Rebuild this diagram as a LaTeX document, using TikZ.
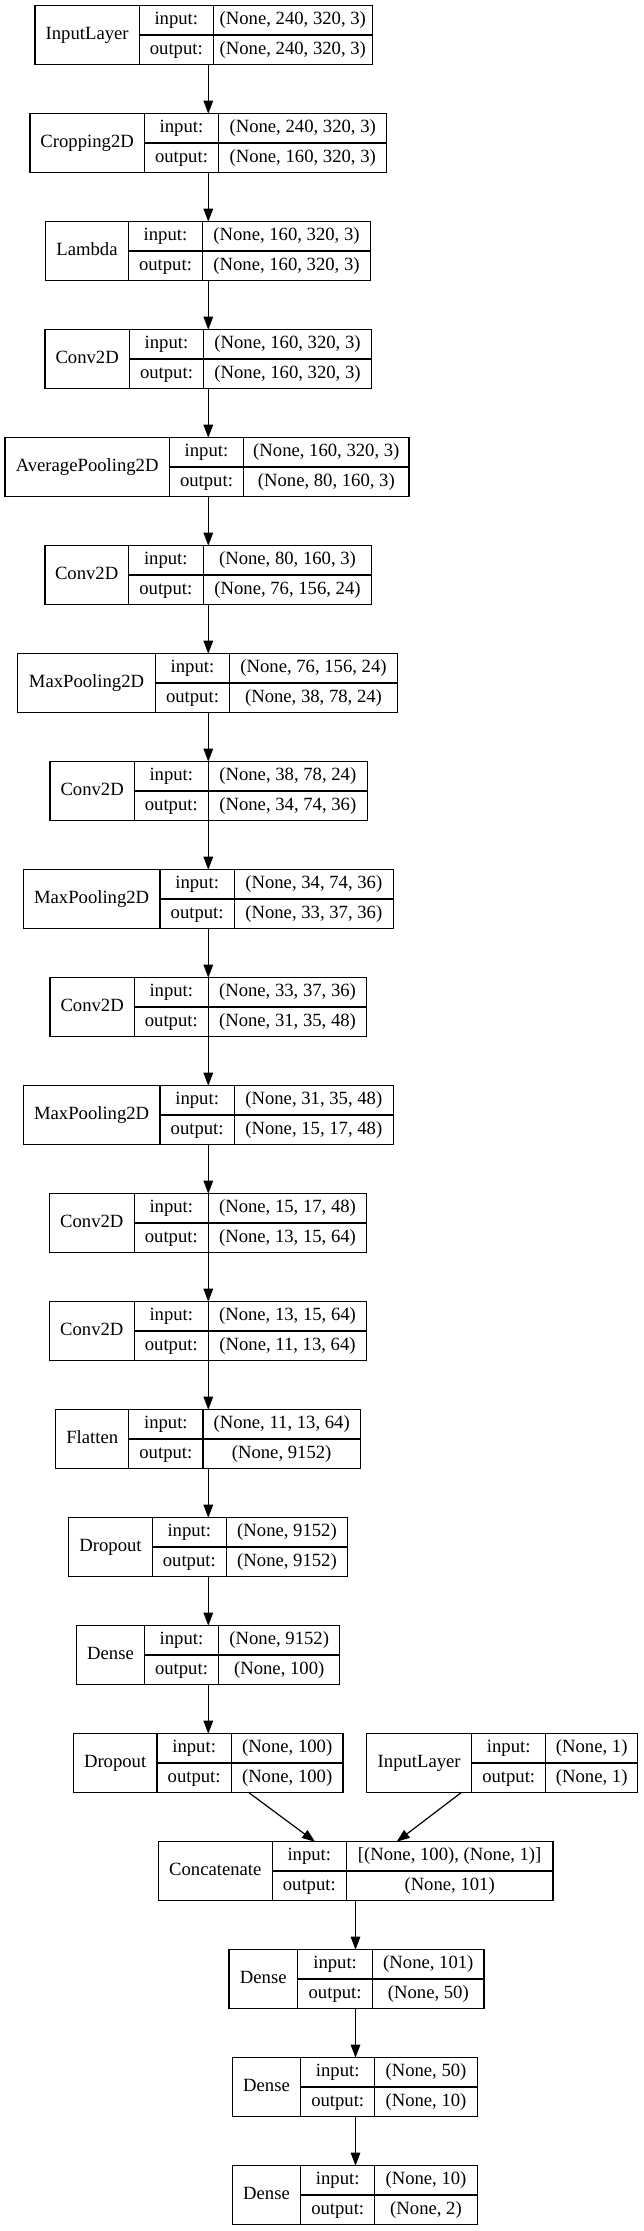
\documentclass[tikz,border=0pt]{standalone}
\usepackage{fontspec}
\setmainfont{Liberation Serif}
\usetikzlibrary{arrows.meta}
\tikzset{
  lbox/.style={draw, line width=1.2pt, inner sep=0pt, outer sep=0pt, anchor=north west, minimum height=58.5pt},
  sep/.style={line width=1.2pt},
  txt/.style={inner sep=0pt, font=\fontsize{18.67}{22}\selectfont, text height=12.6pt, text depth=4pt},
  arr/.style={line width=1.2pt, -{Triangle[length=13pt,width=9.5pt]}},
}
\newcommand\lyr[9]{%
  \pgfmathsetmacro\lw{#6-#3}%
  \node[lbox, minimum width=\lw pt] (#1) at (#3,#2) {};
  \draw[sep] (#4,#2) -- (#4,{#2+58.5});
  \draw[sep] (#5,#2) -- (#5,{#2+58.5});
  \draw[sep] (#4,{#2+29.25}) -- (#6,{#2+29.25});
  \node[txt] (#1-l) at ({(#3+#4)/2},{#2+29.25}) {#7};
  \node[txt] (#1-i) at ({(#4+#5)/2},{#2+14.8}) {input:};
  \node[txt] (#1-o) at ({(#4+#5)/2},{#2+44.0}) {output:};
  \node[txt] (#1-iv) at ({(#5+#6)/2},{#2+14.8}) {#8};
  \node[txt] (#1-ov) at ({(#5+#6)/2},{#2+44.0}) {#9};
}
\begin{document}
\begin{tikzpicture}[x=1pt,y=-1pt]
\useasboundingbox[fill=white] (0,0) rectangle (644,2231);
\lyr{in1}{5.7}{35}{139.3}{213.3}{372.3}{InputLayer}{(None, 240, 320, 3)}{(None, 240, 320, 3)}
\lyr{crop}{113.7}{30}{144.3}{218.7}{386.7}{Cropping2D}{(None, 240, 320, 3)}{(None, 160, 320, 3)}
\lyr{lam}{221.7}{45.7}{128.3}{202.7}{370.3}{Lambda}{(None, 160, 320, 3)}{(None, 160, 320, 3)}
\lyr{c1}{329.7}{45}{129.3}{203.7}{371.3}{Conv2D}{(None, 160, 320, 3)}{(None, 160, 320, 3)}
\lyr{avg}{437.7}{5}{169.3}{243.7}{409}{AveragePooling2D}{(None, 160, 320, 3)}{(None, 80, 160, 3)}
\lyr{c2}{545.7}{45}{128.3}{203.3}{371.7}{Conv2D}{(None, 80, 160, 3)}{(None, 76, 156, 24)}
\lyr{mp1}{653.7}{17.7}{155.3}{229.7}{397.3}{MaxPooling2D}{(None, 76, 156, 24)}{(None, 38, 78, 24)}
\lyr{c3}{761.7}{50}{134.3}{208.3}{367.3}{Conv2D}{(None, 38, 78, 24)}{(None, 34, 74, 36)}
\lyr{mp2}{869.7}{23.3}{160}{234.3}{393.3}{MaxPooling2D}{(None, 34, 74, 36)}{(None, 33, 37, 36)}
\lyr{c4}{977.7}{50}{134.3}{208.3}{366.7}{Conv2D}{(None, 33, 37, 36)}{(None, 31, 35, 48)}
\lyr{mp3}{1085.7}{23.3}{160}{234.3}{393.3}{MaxPooling2D}{(None, 31, 35, 48)}{(None, 15, 17, 48)}
\lyr{c5}{1193.7}{49.3}{134.3}{208.3}{366.7}{Conv2D}{(None, 15, 17, 48)}{(None, 13, 15, 64)}
\lyr{c6}{1301.7}{49.3}{134.3}{208.3}{366.7}{Conv2D}{(None, 13, 15, 64)}{(None, 11, 13, 64)}
\lyr{flat}{1409.7}{55.7}{128.7}{203}{360.3}{Flatten}{(None, 11, 13, 64)}{(None, 9152)}
\lyr{drop1}{1517.7}{68.7}{152.3}{226.3}{347.7}{Dropout}{(None, 9152)}{(None, 9152)}
\lyr{d1}{1625.7}{76.7}{144.3}{218.7}{339.7}{Dense}{(None, 9152)}{(None, 100)}
\lyr{drop2}{1733.7}{73.3}{157}{231.3}{343}{Dropout}{(None, 100)}{(None, 100)}
\lyr{in2}{1733.7}{366.7}{471.7}{545.7}{637.7}{InputLayer}{(None, 1)}{(None, 1)}
\lyr{cat}{1841.7}{158.3}{272.3}{346.3}{553}{Concatenate}{[(None, 100), (None, 1)]}{(None, 101)}
\lyr{d2}{1949.7}{229}{297.5}{372.7}{484}{Dense}{(None, 101)}{(None, 50)}
\lyr{d3}{2057.7}{232.3}{300.7}{374.7}{477.3}{Dense}{(None, 50)}{(None, 10)}
\lyr{d4}{2165.7}{232.3}{300.7}{374.7}{477.3}{Dense}{(None, 10)}{(None, 2)}
\coordinate (ax) at (208.3,0);
\coordinate (bx) at (355.5,0);
\coordinate (a1) at (248.3,0);
\coordinate (b1) at (315,0);
\coordinate (a2) at (461.7,0);
\coordinate (b2) at (396.7,0);
\foreach \u/\v in {in1/crop,crop/lam,lam/c1,c1/avg,avg/c2,c2/mp1,mp1/c3,c3/mp2,mp2/c4,c4/mp3,mp3/c5,c5/c6,c6/flat,flat/drop1,drop1/d1,d1/drop2}
  \draw[arr] (\u.south -| ax) -- (\v.north -| ax);
\draw[arr] (drop2.south -| a1) -- (cat.north -| b1);
\draw[arr] (in2.south -| a2) -- (cat.north -| b2);
\foreach \u/\v in {cat/d2,d2/d3,d3/d4}
  \draw[arr] (\u.south -| bx) -- (\v.north -| bx);
\end{tikzpicture}
\end{document}
